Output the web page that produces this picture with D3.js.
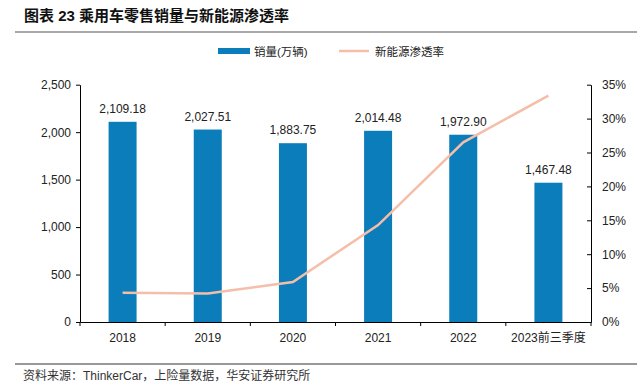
<!DOCTYPE html>
<html><head><meta charset="utf-8">
<script src="https://cdn.jsdelivr.net/npm/d3@7"></script>
<style>
body{margin:0;background:#fff;}
svg{display:block;}
text{font-family:"Liberation Sans",Arial,"Noto Sans CJK SC",sans-serif;}
.cjk{font-family:"Liberation Sans","Noto Sans CJK SC",sans-serif;}
</style></head>
<body>
<svg id="c" width="637" height="388"></svg>
<script>
const categories = ["2018","2019","2020","2021","2022","2023前三季度"];
const sales = [2109.18, 2027.51, 1883.75, 2014.48, 1972.90, 1467.48];
const penetration = [0.043, 0.042, 0.059, 0.143, 0.265, 0.334];
const leftTicks = [0, 500, 1000, 1500, 2000, 2500];
const rightTicks = [0, 0.05, 0.10, 0.15, 0.20, 0.25, 0.30, 0.35];

const svg = d3.select("#c");
const L = 80, R = 591, T = 84.7, B = 322;
const barColor = "#0a7dba", lineColor = "#f4bea8", txt = "#222";

// title
svg.append("text").attr("x", 24).attr("y", 21)
  .attr("font-size", 15).attr("font-weight", "bold").attr("fill", "#111")
  .attr("class","cjk")
  .text("图表 23 乘用车零售销量与新能源渗透率");
svg.append("line").attr("x1", 15).attr("x2", 637).attr("y1", 32).attr("y2", 32)
  .attr("stroke", "#555").attr("stroke-width", 1.2);

const x = d3.scaleBand().domain(categories).range([L, R]).paddingInner(0).paddingOuter(0);
const y = d3.scaleLinear().domain([0, 2500]).range([B, T]);
const y2 = d3.scaleLinear().domain([0, 0.35]).range([B, T]);
const bw = 28;

// bars
svg.selectAll("rect.bar").data(sales).enter().append("rect")
  .attr("x", (d,i) => x(categories[i]) + x.bandwidth()/2 - bw/2)
  .attr("y", d => y(d)).attr("width", bw).attr("height", d => B - y(d))
  .attr("fill", barColor);

// bar labels
svg.selectAll("text.lab").data(sales).enter().append("text")
  .attr("x", (d,i) => x(categories[i]) + x.bandwidth()/2)
  .attr("y", d => y(d) - 9)
  .attr("text-anchor", "middle").attr("font-size", 12).attr("fill", txt)
  .text(d => d3.format(",.2f")(d));

// line
const line = d3.line().x((d,i) => x(categories[i]) + x.bandwidth()/2).y(d => y2(d));
svg.append("path").datum(penetration).attr("d", line)
  .attr("fill", "none").attr("stroke", lineColor).attr("stroke-width", 2.5);

// left axis
const ga = svg.append("g").attr("transform", `translate(${L},0)`)
  .call(d3.axisLeft(y).tickValues(leftTicks).tickFormat(d3.format(",")).tickSize(4).tickSizeOuter(0).tickPadding(5));
// right axis
const gb = svg.append("g").attr("transform", `translate(${R},0)`)
  .call(d3.axisRight(y2).tickValues(rightTicks).tickFormat(d3.format(".0%")).tickSize(0).tickSizeOuter(0).tickPadding(11));
gb.selectAll(".tick").append("line").attr("x1", -4).attr("x2", 0).attr("stroke", "#000");
// bottom axis
const gx = svg.append("g").attr("transform", `translate(0,${B})`)
  .call(d3.axisBottom(x).tickSize(0).tickSizeOuter(0).tickPadding(11));
const bounds = d3.range(categories.length + 1).map(i => L + i * x.bandwidth());
gx.selectAll("line.bnd").data(bounds).enter().append("line").attr("class","bnd")
  .attr("x1", d => d).attr("x2", d => d).attr("y1", 0).attr("y2", 4).attr("stroke", "#000");

[ga, gb, gx].forEach(g => {
  g.selectAll(".domain").attr("stroke", "#000").attr("stroke-width", 1);
  g.selectAll(".tick line").attr("stroke", "#000");
  g.selectAll("text").attr("font-size", 12).attr("fill", txt)
    .attr("font-family", '"Liberation Sans","Noto Sans CJK SC",sans-serif');
});

// legend
svg.append("rect").attr("x", 218).attr("y", 48).attr("width", 32).attr("height", 6).attr("fill", barColor);
svg.append("text").attr("x", 254).attr("y", 55.5).attr("font-size", 11.5).attr("fill", txt)
  .attr("class","cjk").text("销量(万辆)");
svg.append("line").attr("x1", 339).attr("x2", 369).attr("y1", 51).attr("y2", 51)
  .attr("stroke", lineColor).attr("stroke-width", 2.5);
svg.append("text").attr("x", 375).attr("y", 55.5).attr("font-size", 11.5).attr("fill", txt)
  .attr("class","cjk").text("新能源渗透率");

// source
svg.append("line").attr("x1", 15).attr("x2", 637).attr("y1", 364).attr("y2", 364)
  .attr("stroke", "#333").attr("stroke-width", 1);
svg.append("text").attr("x", 23).attr("y", 380).attr("font-size", 12).attr("fill", "#333")
  .attr("class","cjk").text("资料来源：ThinkerCar，上险量数据，华安证券研究所");
</script>
</body></html>
